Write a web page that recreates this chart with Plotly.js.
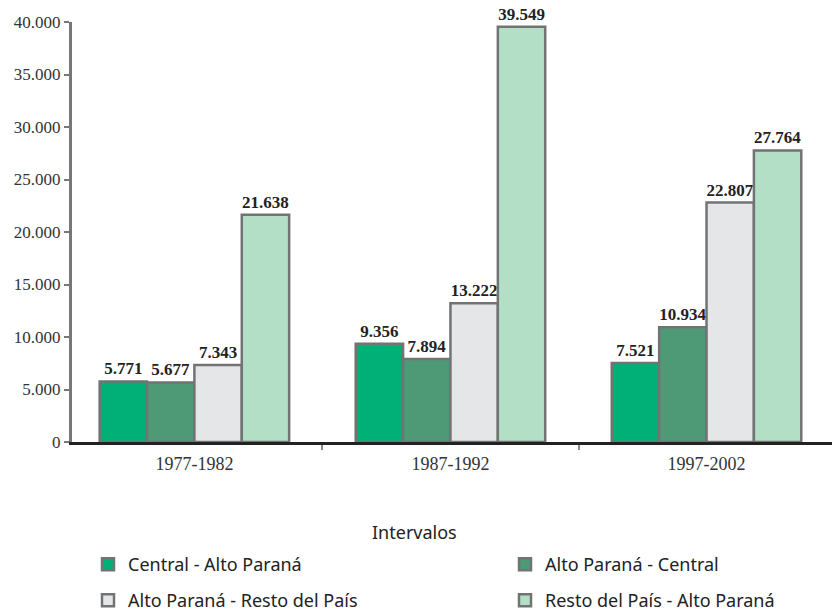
<!DOCTYPE html>
<html>
<head>
<meta charset="utf-8">
<script src="https://cdn.plot.ly/plotly-3.0.1.min.js"></script>
<style>html,body{margin:0;padding:0;background:#fff;}#chart{width:832px;height:612px;}</style>
</head>
<body>
<div id="chart"></div>
<script>
const categories = ["1977-1982", "1987-1992", "1997-2002"];
const seriesNames = ["Central - Alto Paraná", "Alto Paraná - Central", "Alto Paraná - Resto del País", "Resto del País - Alto Paraná"];
const centralAlto = [5771, 9356, 7521];
const altoCentral = [5677, 7894, 10934];
const altoResto = [7343, 13222, 22807];
const restoAlto = [21638, 39549, 27764];
const yTickVals = [0, 5000, 10000, 15000, 20000, 25000, 30000, 35000, 40000];
const legendTitle = "Intervalos";

const seriesValues = [centralAlto, altoCentral, altoResto, restoAlto];
const colors = ["#00b077", "#4e9a77", "#e5e6e8", "#b2dfc6"];
const legendIds = ["legend", "legend2", "legend3", "legend4"];
// legend placement in container pixels: [left, top]
const legendPos = [[88, 546], [505, 546], [88, 582], [505, 582]];

const traces = seriesValues.map((vals, i) => ({
  type: "bar",
  name: seriesNames[i],
  x: categories,
  y: vals,
  legend: legendIds[i],
  marker: { color: colors[i], line: { color: "#737373", width: 2.5 } },
  texttemplate: "%{y:,.0f}",
  textposition: "outside",
  constraintext: "none",
  cliponaxis: false,
  textfont: { family: "Liberation Serif", size: 17, color: "#222", weight: "bold" },
  hoverinfo: "none"
}));

const layout = {
  width: 832,
  height: 612,
  margin: { l: 72, r: 0, t: 22, b: 170 },
  paper_bgcolor: "#fff",
  plot_bgcolor: "#fff",
  separators: ",.",
  barmode: "group",
  bargap: 0.26,
  bargroupgap: 0,
  showlegend: true,
  xaxis: {
    type: "category",
    range: [-0.478, 2.49],
    showline: true,
    linecolor: "#222",
    linewidth: 2.5,
    ticks: "outside",
    tickson: "boundaries",
    ticklen: 5,
    tickwidth: 2,
    tickcolor: "#888",
    ticklabelstandoff: 4,
    showgrid: false,
    zeroline: false,
    tickfont: { family: "Liberation Serif", size: 18, color: "#333" }
  },
  yaxis: {
    range: [0, 40000],
    tickvals: yTickVals,
    tickformat: ",d",
    showline: true,
    linecolor: "#777",
    linewidth: 3,
    ticks: "outside",
    ticklen: 5,
    tickwidth: 2,
    tickcolor: "#777",
    showgrid: false,
    zeroline: false,
    tickfont: { family: "Liberation Serif", size: 17, color: "#333" }
  },
  annotations: [{
    text: legendTitle,
    xref: "paper", yref: "paper",
    x: (414 - 72) / 760, y: (442 - 532) / 420,
    xanchor: "center", yanchor: "middle",
    showarrow: false,
    font: { family: "Noto Sans", size: 18, color: "#222" }
  }]
};

legendIds.forEach((id, i) => {
  layout[id] = {
    orientation: "h",
    xref: "container",
    yref: "container",
    xanchor: "left",
    yanchor: "top",
    x: legendPos[i][0] / 832,
    y: 1 - legendPos[i][1] / 612,
    font: { family: "Noto Sans", size: 18, color: "#222" },
    bgcolor: "rgba(0,0,0,0)"
  };
});

Plotly.newPlot("chart", traces, layout, { displayModeBar: false, staticPlot: true });
</script>
</body>
</html>
